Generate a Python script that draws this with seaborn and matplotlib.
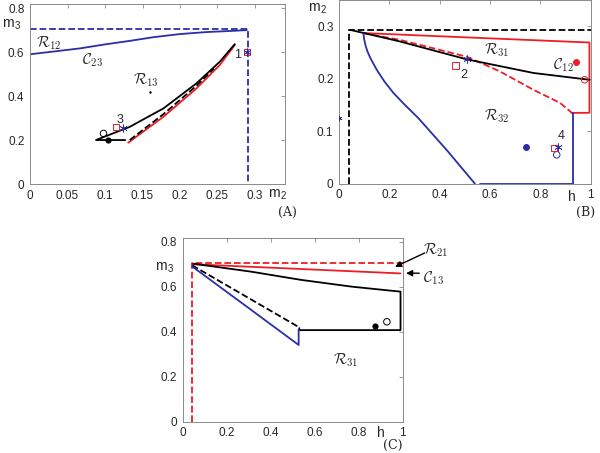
import numpy as np
import pandas as pd
import matplotlib
matplotlib.use("Agg")
import matplotlib.pyplot as plt
from matplotlib.ticker import FuncFormatter
import seaborn as sns

# ---- panel A data (m2 vs m3) ----
a_c23_x = [0.0, 0.035, 0.067, 0.1, 0.133, 0.165, 0.2, 0.235, 0.273, 0.289]
a_c23_y = [0.59, 0.604, 0.617, 0.635, 0.651, 0.668, 0.682, 0.691, 0.697, 0.70]
a_bound_x = [0.0, 0.291, 0.291]
a_bound_y = [0.706, 0.706, 0.0]
a_black_x = [0.127, 0.088, 0.133, 0.178, 0.222, 0.253, 0.273]
a_black_y = [0.2, 0.2, 0.26, 0.344, 0.458, 0.556, 0.636]
a_red_x = [0.131, 0.178, 0.222, 0.253, 0.273]
a_red_y = [0.188, 0.306, 0.435, 0.541, 0.632]
a_dash_x = [0.133, 0.178, 0.222, 0.245]
a_dash_y = [0.200, 0.318, 0.447, 0.525]

# ---- panel B data (h vs m2) ----
b_bound_x = [0.04, 0.04, 1.0]
b_bound_y = [0.0, 0.293, 0.293]
b_red_x = [0.097, 0.995, 0.995, 0.923]
b_red_y = [0.287, 0.269, 0.135, 0.135]
b_reddash_x = [0.097, 0.2424, 0.507, 0.639, 0.772, 0.878, 0.923]
b_reddash_y = [0.287, 0.274, 0.242, 0.214, 0.179, 0.154, 0.136]
b_black_x = [0.045, 0.242, 0.507, 0.772, 0.995]
b_black_y = [0.293, 0.271, 0.237, 0.211, 0.198]
b_blue_x = [0.097, 0.1, 0.105, 0.113, 0.125, 0.15, 0.18, 0.216, 0.26, 0.315, 0.43, 0.54]
b_blue_y = [0.286, 0.275, 0.264, 0.252, 0.239, 0.217, 0.195, 0.173, 0.151, 0.125, 0.063, 0.0]
b_blue2_x = [0.561, 0.928, 0.928]
b_blue2_y = [0.0, 0.0, 0.135]

# ---- panel C data (h vs m3) ----
c_bound_x = [0.04, 0.04, 1.0]
c_bound_y = [0.0, 0.704, 0.704]
c_red_x = [0.043, 0.99]
c_red_y = [0.700, 0.659]
c_black_x = [0.049, 0.31, 0.54, 0.77, 0.99, 0.99, 0.53, 0.53]
c_black_y = [0.702, 0.667, 0.63, 0.6, 0.578, 0.407, 0.407, 0.416]
c_dash_x = [0.043, 0.525]
c_dash_y = [0.695, 0.422]
c_blue_x = [0.043, 0.3, 0.527, 0.527]
c_blue_y = [0.690, 0.505, 0.341, 0.41]

BLUE = "#2a2ea8"
RED = "#ee1c24"
GRID = "#8a8a8a"

sns.set_style("white")
plt.rcParams["font.family"] = ["Liberation Sans", "DejaVu Sans"]
plt.rcParams["mathtext.fontset"] = "cm"

fig = plt.figure(figsize=(6.0, 4.53), dpi=100)
axA = fig.add_axes([0.05, 0.5938, 0.425, 0.398])
axB = fig.add_axes([0.565, 0.5945, 0.4195, 0.4055])
axC = fig.add_axes([0.3045, 0.0691, 0.3667, 0.4048])

fmt = FuncFormatter(lambda v, p: "%g" % round(v, 3))


def line(ax, x, y, color, ls="-", lw=1.3):
    sns.lineplot(x=x, y=y, ax=ax, color=color, linestyle=ls, lw=lw,
                 sort=False, estimator=None)


def pts(ax, x, y, marker, color, filled=True, s=22):
    sns.scatterplot(x=x, y=y, ax=ax, marker=marker, color=color, s=s,
                    linewidth=0.7, zorder=5)
    coll = ax.collections[-1]
    coll.set_edgecolor(color)
    coll.set_facecolor(color if filled else "none")


def star(ax, x, y, color, s=30):
    sns.scatterplot(x=x, y=y, ax=ax, marker=(6, 2, 0), color=color,
                    s=s, linewidth=0.5, zorder=6)
    ax.collections[-1].set_edgecolor(color)


def style(ax, xlim, ylim, xt, yt):
    ax.set_xlim(*xlim)
    ax.set_ylim(*ylim)
    ax.set_xticks(xt)
    ax.set_yticks(yt)
    ax.xaxis.set_major_formatter(fmt)
    ax.yaxis.set_major_formatter(fmt)
    ax.tick_params(direction="in", length=3, width=0.6, color=GRID,
                   labelsize=8.5, top=True, right=True, pad=4)
    for sp in ax.spines.values():
        sp.set_color(GRID)
        sp.set_linewidth(0.7)
    ax.set_xlabel("")
    ax.set_ylabel("")


def arrow(ax, tail, head):
    ax.annotate("", xy=head, xytext=tail, annotation_clip=False,
                arrowprops=dict(arrowstyle="-|>", color="black", lw=1.0,
                                shrinkA=0, shrinkB=0, mutation_scale=9))


# ---- panel A ----
line(axA, a_bound_x, a_bound_y, BLUE, "--")
line(axA, a_c23_x, a_c23_y, BLUE)
line(axA, a_red_x, a_red_y, RED)
line(axA, a_dash_x, a_dash_y, "black", "--")
line(axA, a_black_x, a_black_y, "black")
pts(axA, [0.104], [0.2], "o", "black", s=14)
pts(axA, [0.098], [0.23], "o", "black", filled=False, s=22)
pts(axA, [0.115, 0.289], [0.258, 0.6], "s", RED, filled=False, s=20)
star(axA, [0.124, 0.289], [0.256, 0.6], BLUE)
pts(axA, [0.16], [0.42], "o", "black", s=1)
axA.text(0.277, 0.585, "1", fontsize=9, ha="center", va="center")
axA.text(0.12, 0.29, "3", fontsize=9, ha="center", va="center")
axA.text(0.025, 0.642, r"$\mathcal{R}_{12}$", fontsize=11, ha="center", va="center")
axA.text(0.083, 0.565, r"$\mathcal{C}_{23}$", fontsize=11, ha="center", va="center")
axA.text(0.155, 0.47, r"$\mathcal{R}_{13}$", fontsize=11, ha="center", va="center")
style(axA, (0, 0.34), (0, 0.82), [0, 0.05, 0.1, 0.15, 0.2, 0.25, 0.3],
      [0, 0.2, 0.4, 0.6, 0.8])
fig.text(12 / 600, 1 - 25 / 453, r"m$_\mathregular{3}$", fontsize=10, ha="center", va="center")
fig.text(278 / 600, 1 - 195 / 453, r"m$_\mathregular{2}$", fontsize=10, ha="center", va="center")
fig.text(287 / 600, 1 - 212 / 453, "(A)", fontsize=9, ha="center", va="center",
         family="DejaVu Serif")

# ---- panel B ----
line(axB, b_bound_x, b_bound_y, "black", "--")
line(axB, b_red_x, b_red_y, RED)
line(axB, b_reddash_x, b_reddash_y, RED, "--")
line(axB, b_black_x, b_black_y, "black")
line(axB, b_blue_x, b_blue_y, BLUE)
line(axB, b_blue2_x, b_blue2_y, BLUE)
pts(axB, [0.943], [0.232], "o", RED, s=18)
pts(axB, [0.976], [0.198], "o", RED, filled=False, s=22)
pts(axB, [0.742], [0.07], "o", BLUE, s=18)
pts(axB, [0.865], [0.055], "o", BLUE, filled=False, s=22)
pts(axB, [0.463, 0.855], [0.225, 0.068], "s", RED, filled=False, s=20)
star(axB, [0.507, 0.869], [0.237, 0.069], BLUE)
star(axB, [0.0], [0.125], BLUE, s=10)
axB.text(0.494, 0.208, "2", fontsize=9, ha="center", va="center")
axB.text(0.883, 0.09, "4", fontsize=9, ha="center", va="center")
axB.text(0.627, 0.255, r"$\mathcal{R}_{31}$", fontsize=11, ha="center", va="center")
axB.text(0.893, 0.225, r"$\mathcal{C}_{12}$", fontsize=11, ha="center", va="center")
axB.text(0.627, 0.128, r"$\mathcal{R}_{32}$", fontsize=11, ha="center", va="center")
style(axB, (0, 1), (0, 0.35), [0, 0.2, 0.4, 0.6, 0.8, 1], [0, 0.1, 0.2, 0.3])
fig.text(318 / 600, 1 - 9 / 453, r"m$_\mathregular{2}$", fontsize=10, ha="center", va="center")
fig.text(572 / 600, 1 - 197 / 453, "h", fontsize=10, ha="center", va="center")
fig.text(586 / 600, 1 - 212 / 453, "(B)", fontsize=9, ha="center", va="center",
         family="DejaVu Serif")

# ---- panel C ----
line(axC, c_bound_x, c_bound_y, RED, "--")
line(axC, c_red_x, c_red_y, RED)
line(axC, c_black_x, c_black_y, "black")
line(axC, c_dash_x, c_dash_y, "black", "--")
line(axC, c_blue_x, c_blue_y, BLUE)
pts(axC, [0.874], [0.427], "o", "black", s=14)
pts(axC, [0.928], [0.444], "o", "black", filled=False, s=22)
axC.text(0.74, 0.274, r"$\mathcal{R}_{31}$", fontsize=11, ha="center", va="center")
axC.text(1.15, 0.763, r"$\mathcal{R}_{21}$", fontsize=11, ha="center", va="center")
axC.text(1.14, 0.636, r"$\mathcal{C}_{13}$", fontsize=11, ha="center", va="center")
arrow(axC, (1.1, 0.75), (0.965, 0.688))
arrow(axC, (1.075, 0.66), (1.015, 0.66))
style(axC, (0, 1), (0, 0.815), [0, 0.2, 0.4, 0.6, 0.8, 1], [0, 0.2, 0.4, 0.6, 0.8])
fig.text(165 / 600, 1 - 268 / 453, r"m$_\mathregular{3}$", fontsize=10, ha="center", va="center")
fig.text(381 / 600, 1 - 433 / 453, "h", fontsize=10, ha="center", va="center")
fig.text(393 / 600, 1 - 445 / 453, "(C)", fontsize=9, ha="center", va="center",
         family="DejaVu Serif")

fig.savefig("out.png", dpi=100)
